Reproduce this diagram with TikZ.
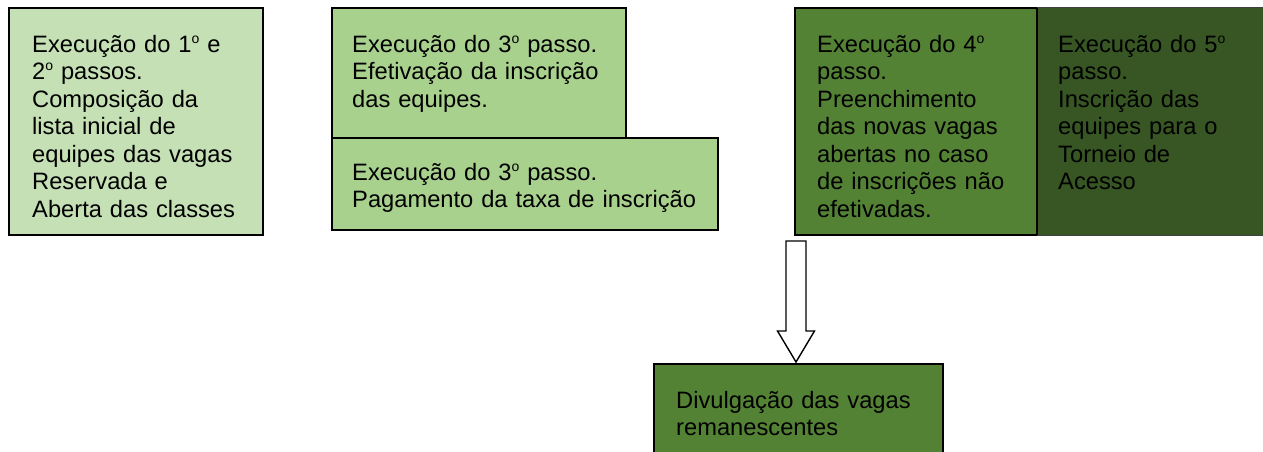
\documentclass[tikz,border=0pt]{standalone}
\usepackage{fontspec}
\setmainfont{Liberation Sans}
\usetikzlibrary{calc}
\definecolor{gA}{HTML}{C5E0B4}
\definecolor{gB}{HTML}{A9D18E}
\definecolor{gC}{HTML}{548235}
\definecolor{gD}{HTML}{375623}
\newcommand\ordo{\raisebox{9.3pt}{\fontsize{14}{14}\selectfont o}}
\tikzset{
  box/.style={draw=black, line width=1.6pt, anchor=north west, inner sep=0pt, outer sep=0pt},
  txt/.style={anchor=north west, inner sep=0pt, align=left, text=black,
    font=\fontsize{23.7}{27.5}\selectfont},
  blockarrow/.style={draw=black, line width=1.4pt, fill=white, line join=miter}
}
\begin{document}
\begin{tikzpicture}[x=1pt,y=-1pt]
\useasboundingbox[fill=white] (0,0) rectangle (1263,452);
% boxes
\node[box, fill=gA, minimum width=254, minimum height=227] (b1) at (9,8) {};
\node[box, fill=gB, minimum width=294, minimum height=130] (b2) at (332,8) {};
\node[box, fill=gB, minimum width=386, minimum height=92] (b3) at (332,138) {};
\node[box, fill=gC, minimum width=242, minimum height=227] (b4) at (795,8) {};
\node[box, fill=gD, draw=black!75, line width=1pt, minimum width=232, minimum height=227] (b5) at (1037,8) {};
\draw[black, line width=1.6pt] (b4.north east) -- (b4.south east);
\node[box, fill=gC, minimum width=289, minimum height=100] (b6) at (654,364) {};
% texts
\node[txt, text width=235] (t1) at ($(b1.north west)+(23,25)$)
  {\strut Execução do 1\ordo{} e\\2\ordo{} passos.\\Composição da\\lista inicial de\\equipes das vagas\\Reservada e\\Aberta das classes};
\node[txt, text width=270] (t2) at ($(b2.north west)+(20,25)$)
  {\strut Execução do 3\ordo{} passo.\\Efetivação da inscrição\\das equipes.};
\node[txt, text width=362] (t3) at ($(b3.north west)+(20,23)$)
  {\strut Execução do 3\ordo{} passo.\\Pagamento da taxa de inscrição};
\node[txt, text width=218] (t4) at ($(b4.north west)+(22,25)$)
  {\strut Execução do 4\ordo\\passo.\\Preenchimento\\das novas vagas\\abertas no caso\\de inscrições não\\efetivadas.};
\node[txt, text width=205] (t5) at ($(b5.north west)+(21,25)$)
  {\strut Execução do 5\ordo\\passo.\\Inscrição das\\equipes para o\\Torneio de\\Acesso};
\node[txt, text width=265] (t6) at ($(b6.north west)+(22,25)$)
  {\strut Divulgação das vagas\\remanescentes};
% block arrow from b4 to b6
\coordinate (tip) at ($(b6.north)+(-2.5,-2)$);
\coordinate (tail) at ($(tip |- b4.south)+(0,6)$);
\draw[blockarrow] (tip) -- ($(tip)+(-18.5,-31)$) -- ($(tip)+(-10,-31)$) -- ($(tail)+(-10,0)$)
  -- ($(tail)+(10,0)$) -- ($(tip)+(10,-31)$) -- ($(tip)+(18.5,-31)$) -- cycle;
\end{tikzpicture}
\end{document}
